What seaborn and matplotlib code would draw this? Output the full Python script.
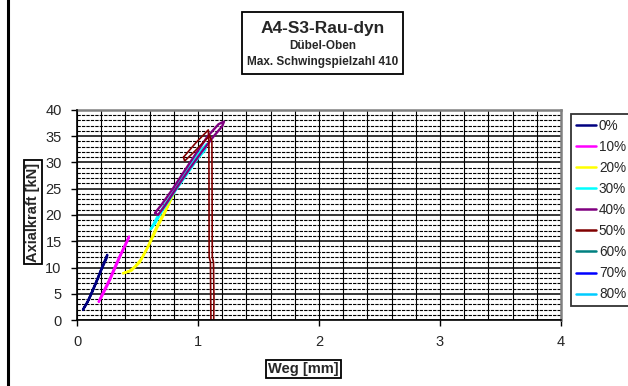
import numpy as np
import pandas as pd
import matplotlib
matplotlib.use("Agg")
import matplotlib.pyplot as plt
import seaborn as sns
from matplotlib.lines import Line2D
from matplotlib.patches import Rectangle

# ========== Data ==========
labels = ["0%", "10%", "20%", "30%", "40%", "50%", "60%", "70%", "80%"]
colors = ["#000080", "#FF00FF", "#FFFF00", "#00FFFF", "#800080",
          "#800000", "#008080", "#0000FF", "#00CCFF"]

weg_0 = [0.05, 0.09, 0.13, 0.17, 0.21, 0.25, 0.245, 0.20, 0.16, 0.12, 0.08, 0.05]
kraft_0 = [2.0, 3.6, 5.7, 7.9, 10.2, 12.4, 11.8, 9.5, 7.2, 5.0, 3.1, 2.0]

weg_10 = [0.18, 0.22, 0.27, 0.32, 0.37, 0.43, 0.42, 0.36, 0.31, 0.26, 0.21, 0.18]
kraft_10 = [3.5, 5.5, 7.8, 10.5, 13.0, 15.9, 15.2, 12.3, 9.6, 7.0, 4.7, 3.5]

weg_20 = [0.38, 0.43, 0.48, 0.53, 0.58, 0.62, 0.66, 0.70, 0.74, 0.78, 0.81,
          0.79, 0.73, 0.67, 0.60, 0.52, 0.45, 0.38]
kraft_20 = [8.9, 9.3, 10.2, 11.6, 13.7, 15.8, 17.8, 19.6, 21.2, 23.2, 24.8,
            23.6, 20.6, 17.9, 14.5, 11.0, 9.4, 8.9]

weg_30 = [0.61, 0.66, 0.72, 0.80, 0.88, 0.95, 1.02, 1.07,
          1.06, 0.99, 0.91, 0.81, 0.71, 0.645, 0.61]
kraft_30 = [17.3, 19.5, 21.8, 24.5, 27.5, 30.0, 32.2, 33.5,
            32.4, 30.5, 27.8, 24.5, 21.0, 18.4, 17.3]

weg_40 = [0.645, 0.70, 0.78, 0.88, 0.98, 1.08, 1.17, 1.215,
          1.20, 1.13, 1.03, 0.93, 0.83, 0.73, 0.67, 0.645]
kraft_40 = [20.4, 22.0, 24.6, 28.1, 31.6, 35.0, 37.3, 37.8,
            36.9, 35.0, 32.0, 28.8, 25.4, 21.9, 20.0, 20.4]

weg_50 = [0.88, 0.98, 1.085, 1.09, 1.092, 1.103, 1.105, 1.107, 1.13, 1.132,
          1.128, 1.118, 1.115, 1.095, 1.075, 0.98, 0.89, 0.88]
kraft_50 = [31.0, 33.7, 36.2, 34.0, 12.0, 11.0, 4.0, 0.0, 0.0, 4.0,
            11.0, 12.0, 34.0, 35.2, 34.6, 32.3, 30.3, 31.0]

weg_60, kraft_60 = [], []
weg_70, kraft_70 = [], []
weg_80, kraft_80 = [], []

x_ticks = [0, 1, 2, 3, 4]
y_ticks = [0, 5, 10, 15, 20, 25, 30, 35, 40]

all_weg = [weg_0, weg_10, weg_20, weg_30, weg_40, weg_50, weg_60, weg_70, weg_80]
all_kraft = [kraft_0, kraft_10, kraft_20, kraft_30, kraft_40, kraft_50,
             kraft_60, kraft_70, kraft_80]

# ---------- Long-format table ----------
rows = []
for lab, xs, ys in zip(labels, all_weg, all_kraft):
    for i, (x, y) in enumerate(zip(xs, ys)):
        rows.append({"Serie": lab, "Weg": x, "Kraft": y, "idx": i})
df = pd.DataFrame(rows)

# ---------- Style ----------
sns.set_style("white")
plt.rcParams["font.family"] = ["Liberation Sans", "DejaVu Sans"]

W, H = 628, 386
fig = plt.figure(figsize=(W / 100, H / 100), dpi=100)
ax = fig.add_axes([77 / W, 1 - 320 / H, (561 - 77) / W, (320 - 110) / H])

for lab, col in zip(labels, colors):
    sub = df[df["Serie"] == lab]
    if sub.empty:
        continue
    lw = 1.2 if lab == "50%" else 1.7
    sns.lineplot(data=sub, x="Weg", y="Kraft", sort=False, estimator=None,
                 color=col, lw=lw, ax=ax, legend=False, zorder=3)

# ---------- Axes ----------
ax.set_xlim(0, 4)
ax.set_ylim(0, 40)
ax.set_xticks(x_ticks)
ax.set_yticks(y_ticks)
ax.set_xticks(np.arange(0, 4.01, 0.2), minor=True)
ax.set_yticks(np.arange(0, 40.01, 1), minor=True)
ax.set_xticklabels([str(t) for t in x_ticks], fontsize=10.5)
ax.set_yticklabels([str(t) for t in y_ticks], fontsize=10.5)
ax.tick_params(which="major", direction="out", length=4, width=1, color="black",
               bottom=True, left=True, pad=7)
ax.tick_params(which="minor", length=0)
ax.set_xlabel("")
ax.set_ylabel("")

ax.xaxis.grid(True, which="both", color="black", lw=0.8, ls="-")
ax.yaxis.grid(True, which="major", color="black", lw=1.1, ls="-")
ax.yaxis.grid(True, which="minor", color="black", lw=0.8, ls=(0, (3, 1)))
ax.set_axisbelow(True)

for side in ["top", "right"]:
    ax.spines[side].set_color("#808080")
    ax.spines[side].set_linewidth(1.8)
for side in ["left", "bottom"]:
    ax.spines[side].set_color("black")
    ax.spines[side].set_linewidth(1.2)
    ax.spines[side].set_zorder(4)

# ---------- Axis labels (boxed) ----------
box = dict(boxstyle="square,pad=0.15", fc="white", ec="black", lw=1.3)
fig.text(303 / W, 1 - 369 / H, "Weg [mm]", ha="center", va="center",
         fontsize=10.5, fontweight="bold", bbox=box)
fig.text(33 / W, 1 - 212 / H, "Axialkraft [kN]", ha="center", va="center",
         rotation=90, fontsize=10.5, fontweight="bold", bbox=box)

# ---------- Title box ----------
fig.patches.append(Rectangle((242 / W, 1 - 74 / H), 161 / W, 62 / H,
                             transform=fig.transFigure, fill=False,
                             ec="black", lw=1.3))
fig.text(322.5 / W, 1 - 29 / H, "A4-S3-Rau-dyn", ha="center", va="center",
         fontsize=12.5, fontweight="bold")
fig.text(322.5 / W, 1 - 46 / H, "Dübel-Oben", ha="center", va="center",
         fontsize=8.5, fontweight="bold")
fig.text(322.5 / W, 1 - 62 / H, "Max. Schwingspielzahl 410", ha="center",
         va="center", fontsize=8.5, fontweight="bold")

# ---------- Legend ----------
handles = [Line2D([], [], color=c, lw=1.8) for c in colors]
leg = fig.legend(handles, labels, loc="upper left",
                 bbox_to_anchor=(571 / W, 1 - 114 / H), frameon=True,
                 fancybox=False, fontsize=9.8, handlelength=1.5,
                 handletextpad=0.2, borderpad=0.35, borderaxespad=0,
                 labelspacing=0.52, handleheight=0.7)
leg.get_frame().set_edgecolor("black")
leg.get_frame().set_linewidth(1.3)

# ---------- Outer chart frame ----------
fig.patches.append(Rectangle((8 / W, -0.2), 1.3, 1.2 + 1 - 3 / H,
                             transform=fig.transFigure, fill=False,
                             ec="black", lw=2.2))

fig.savefig("out.png", dpi=100)
